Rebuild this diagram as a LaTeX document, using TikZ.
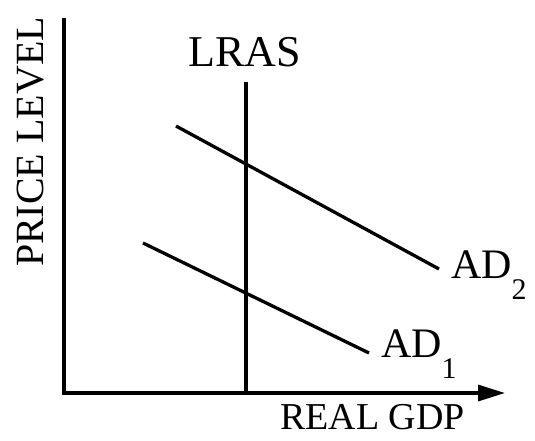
\documentclass[tikz,border=0pt]{standalone}
\usepackage{fontspec}
\setmainfont{Liberation Serif}
\usetikzlibrary{arrows.meta}
\tikzset{
  curve/.style={line width=3.3pt, line cap=butt},
  axis/.style={line width=3.3pt},
  lbl/.style={inner sep=0pt, outer sep=0pt},
}
\newcommand{\mysub}[1]{\raisebox{-21pt}{\fontsize{30}{30}\selectfont #1}}
\begin{document}
\begin{tikzpicture}[x=1pt,y=-1pt]
\useasboundingbox[fill=white] (0,0) rectangle (535,440);
% axes
\coordinate (O) at (64,393);
\coordinate (ytop) at (64,18);
\coordinate (xend) at (505,393);
\draw[axis] (ytop) -- (64,394.65);
\draw[axis,-{Triangle[length=27pt,width=16pt]}] (62.35,393) -- (xend);
% LRAS
\coordinate (lrastop) at (246,82);
\coordinate (lrasbot) at (246,393);
\draw[curve] (lrastop) -- (lrasbot);
% AD curves
\coordinate (ad2a) at (176,126);
\coordinate (ad2b) at (439,269);
\coordinate (ad1a) at (143,243);
\coordinate (ad1b) at (369,353);
\draw[curve] (ad2a) -- (ad2b);
\draw[curve] (ad1a) -- (ad1b);
% labels
\node[lbl, anchor=base, font=\fontsize{44}{44}\selectfont] (lras) at (245,66) {LRAS};
\node[lbl, anchor=base, font=\fontsize{38}{38}\selectfont] (xlab) at (372.5,429) {REAL GDP};
\node[lbl, anchor=base, rotate=90, font=\fontsize{40}{40}\selectfont] (ylab) at (43,142) {PRICE LEVEL};
\node[lbl, anchor=base west, font=\fontsize{42}{42}\selectfont] (ad2) at (451,278) {AD\mysub{2}};
\node[lbl, anchor=base west, font=\fontsize{42}{42}\selectfont] (ad1) at (381,357) {AD\mysub{1}};
\end{tikzpicture}
\end{document}
